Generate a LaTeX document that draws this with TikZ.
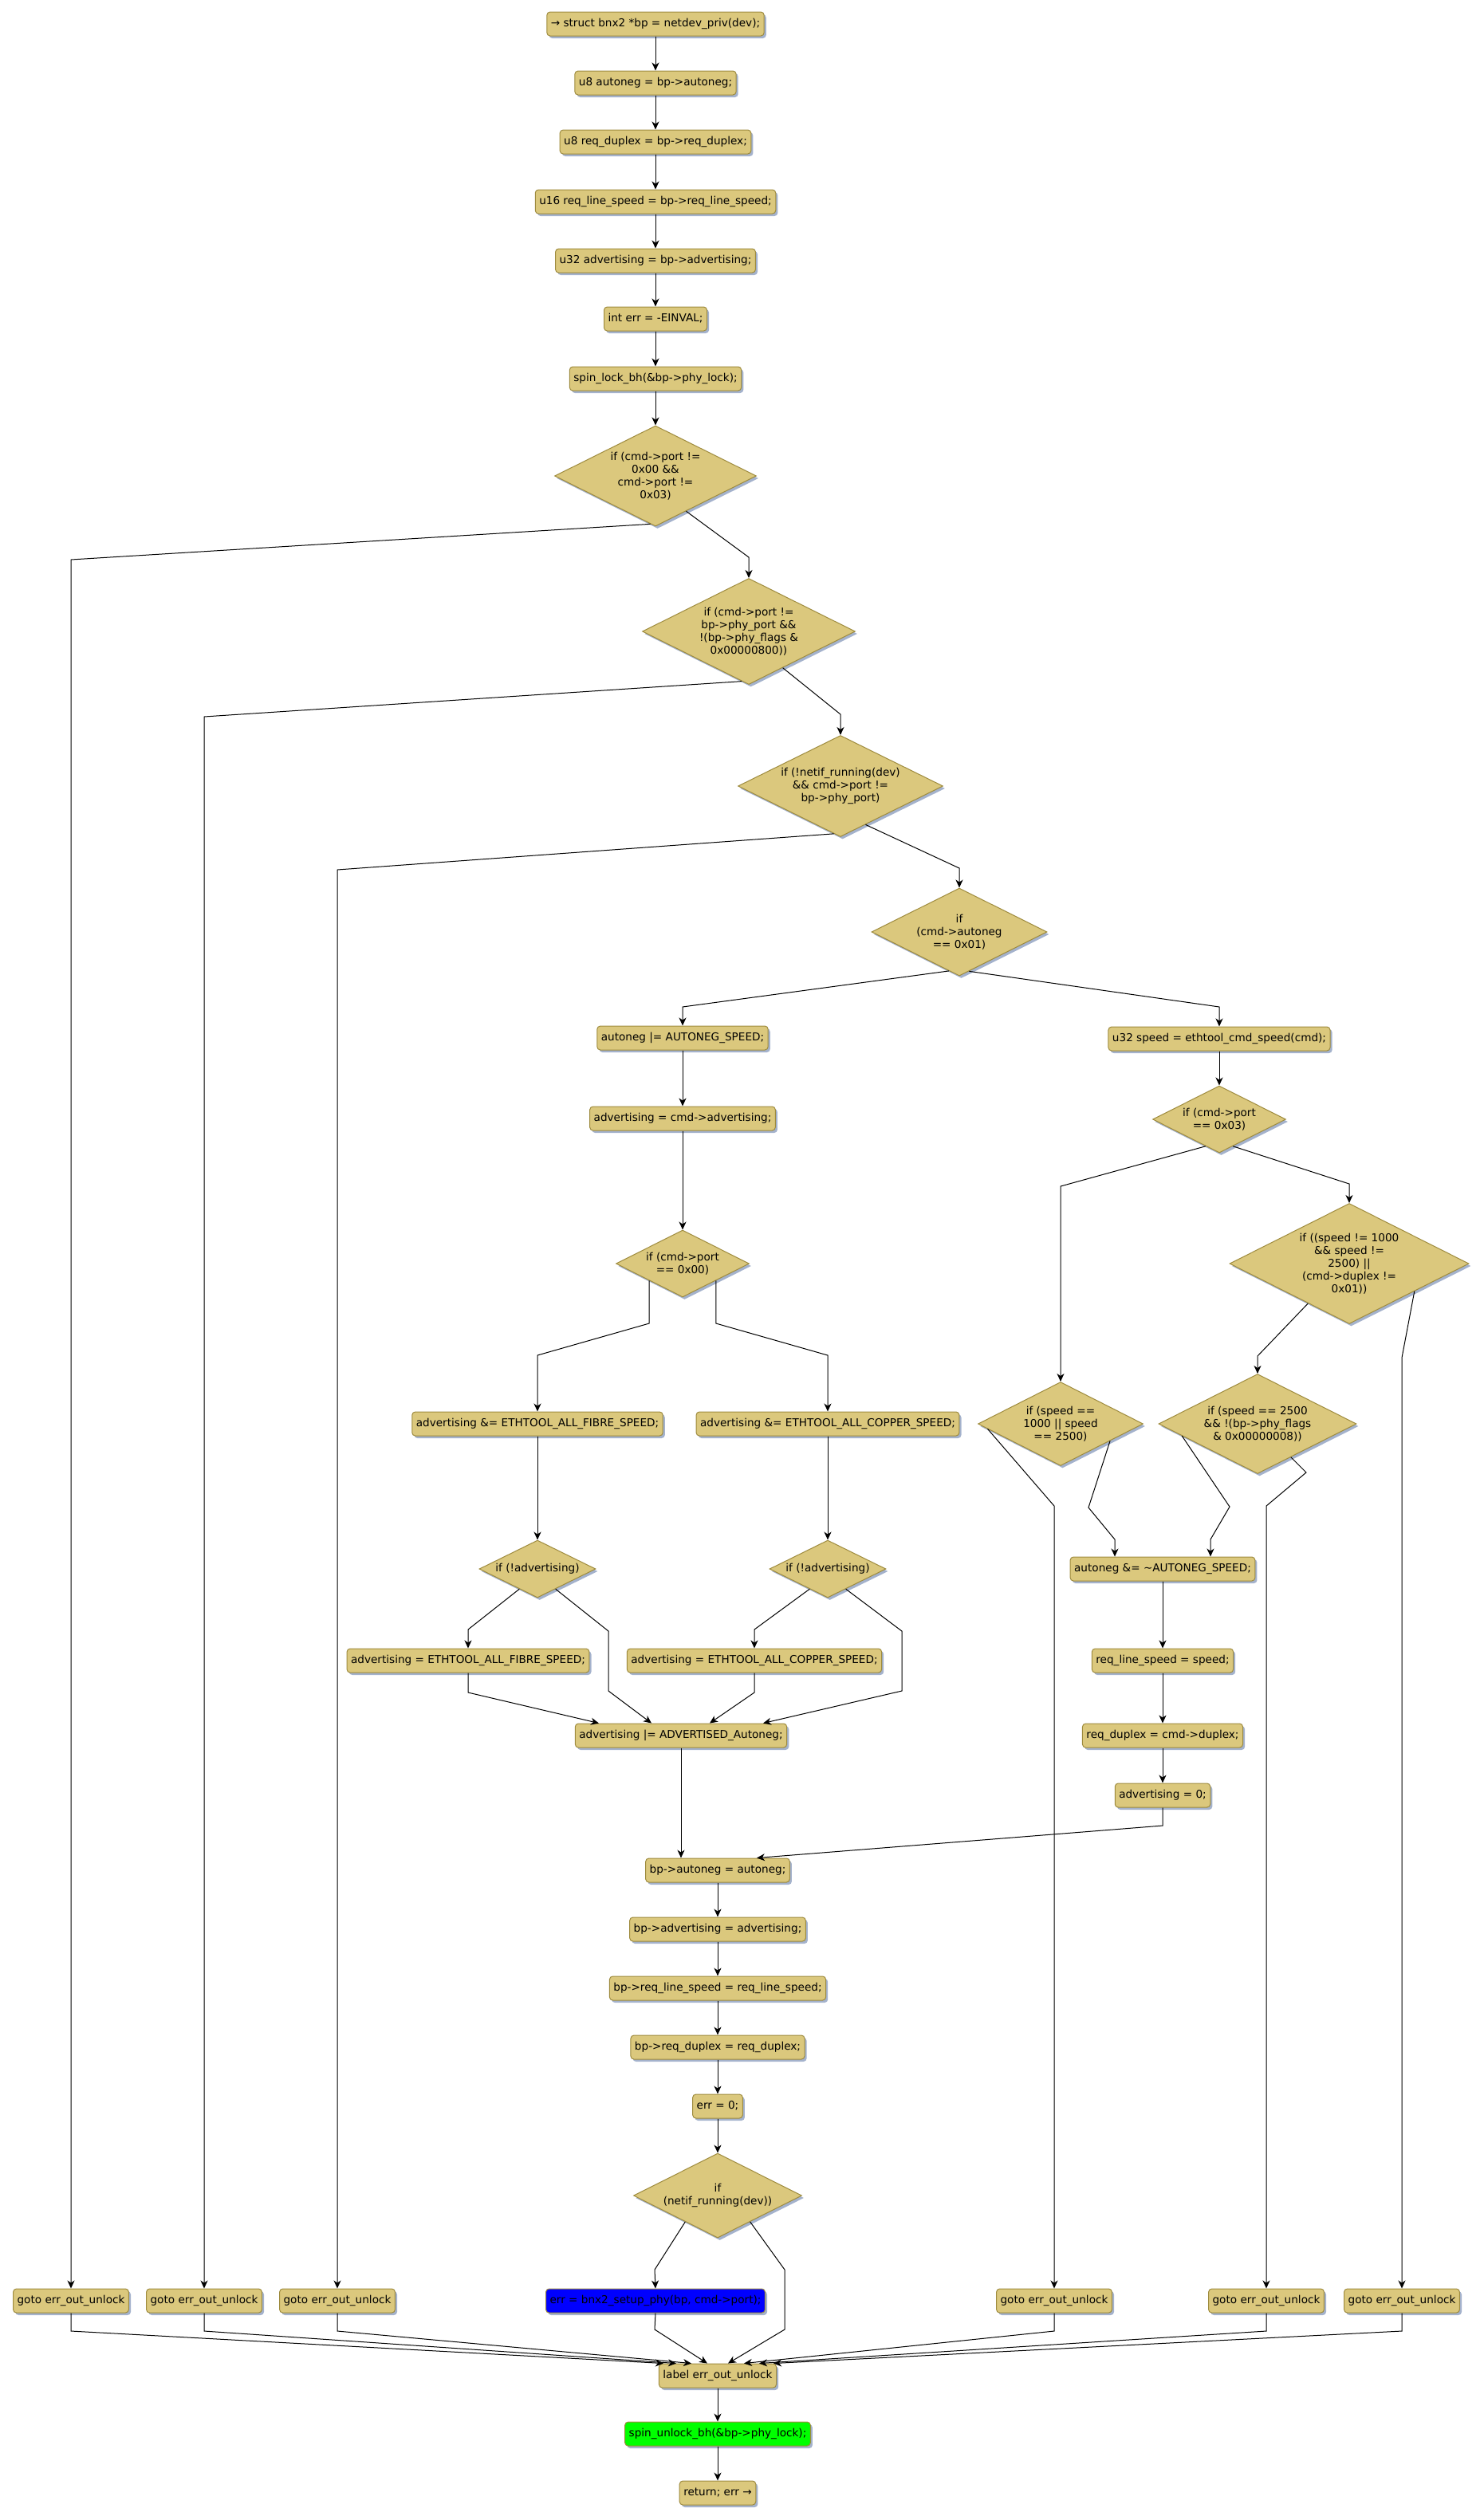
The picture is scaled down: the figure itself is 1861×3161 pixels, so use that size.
\documentclass[tikz,border=0pt]{standalone}
\usepackage{fontspec}
\setmainfont{DejaVu Sans}
\usepackage{tikz}
\usetikzlibrary{arrows.meta,calc,shapes.geometric,shadows}
\definecolor{Sand}{HTML}{DBC87D}
\definecolor{SandEdge}{HTML}{9E8B3E}
\definecolor{Haze}{HTML}{A4B2CC}
\definecolor{SetupBlue}{HTML}{0000FF}
\definecolor{UnlockGreen}{HTML}{00FF00}
\tikzset{
  stmt/.style={draw=SandEdge, fill=Sand, line width=0.5pt, rounded corners=2pt,
    minimum height=15pt, inner xsep=2.5pt, text height=5pt, text depth=1.5pt,
    general shadow={fill=Haze, shadow xshift=1.3pt, shadow yshift=-1.5pt}},
  cond/.style 2 args={diamond, aspect=2, draw=SandEdge, fill=Sand, line width=0.5pt,
    inner sep=0pt, align=center, minimum width=#1*0.5pt, minimum height=#2*0.5pt,
    general shadow={fill=Haze, shadow xshift=1.3pt, shadow yshift=-1.5pt}},
  flow/.style={-{Stealth[length=5pt,width=4.5pt,inset=1.5pt]}, line width=0.5pt},
}
\begin{document}
\begin{tikzpicture}[x=0.5pt, y=-0.5pt, font=\fontsize{6.8pt}{8pt}\selectfont]
    \useasboundingbox (0,0) rectangle (1861,3161);

    % entry and locals
    \node[stmt] (n1) at (822,30) {→ struct bnx2 *bp = netdev\_priv(dev);};
    \node[stmt] (n2) at (822,104) {u8 autoneg = bp->autoneg;};
    \node[stmt] (n3) at (822,178) {u8 req\_duplex = bp->req\_duplex;};
    \node[stmt] (n4) at (822,253) {u16 req\_line\_speed = bp->req\_line\_speed;};
    \node[stmt] (n5) at (822,327) {u32 advertising = bp->advertising;};
    \node[stmt] (n6) at (822,400) {int err = -EINVAL;};
    \node[stmt] (n7) at (822,475) {spin\_lock\_bh(\&bp->phy\_lock);};

    % port checks
    \node[cond={253}{126}] (d1) at (822,597) {if (cmd->port !=\\0x00 \&\&\\cmd->port !=\\0x03)};
    \node[cond={267}{133}] (d2) at (939,792) {if (cmd->port !=\\bp->phy\_port \&\&\\!(bp->phy\_flags \&\\0x00000800))};
    \node[cond={257}{127}] (d3) at (1054,986) {if (!netif\_running(dev)\\\&\& cmd->port !=\\bp->phy\_port)};
    \node[cond={220}{110}] (d4) at (1203,1169) {if\\(cmd->autoneg\\== 0x01)};

    % fixed speed branch
    \node[stmt] (sp) at (1529,1303) {u32 speed = ethtool\_cmd\_speed(cmd);};
    \node[cond={167}{84}] (d5) at (1529,1404) {if (cmd->port\\== 0x03)};
    \node[cond={207}{105}] (d6) at (1330,1786) {if (speed ==\\1000 || speed\\== 2500)};
    \node[cond={300}{151}] (d7) at (1692,1585) {if ((speed != 1000\\\&\& speed !=\\2500) ||\\(cmd->duplex !=\\0x01))};
    \node[cond={248}{125}] (d8) at (1577,1786) {if (speed == 2500\\\&\& !(bp->phy\_flags\\\& 0x00000008))};
    \node[stmt] (ng) at (1458,1968) {autoneg \&= \textasciitilde AUTONEG\_SPEED;};
    \node[stmt] (rl) at (1458,2083) {req\_line\_speed = speed;};
    \node[stmt] (rd) at (1458,2177) {req\_duplex = cmd->duplex;};
    \node[stmt] (az) at (1458,2252) {advertising = 0;};

    % autoneg branch
    \node[stmt] (ao) at (856,1302) {autoneg |= AUTONEG\_SPEED;};
    \node[stmt] (ac) at (856,1403) {advertising = cmd->advertising;};
    \node[cond={167}{84}] (d9) at (856,1585) {if (cmd->port\\== 0x00)};
    \node[stmt] (af) at (674,1786) {advertising \&= ETHTOOL\_ALL\_FIBRE\_SPEED;};
    \node[stmt] (ak) at (1038,1786) {advertising \&= ETHTOOL\_ALL\_COPPER\_SPEED;};
    \node[cond={146}{72}] (d10) at (674,1968) {if (!advertising)};
    \node[cond={146}{72}] (d11) at (1038,1968) {if (!advertising)};
    \node[stmt] (sf) at (587,2083) {advertising = ETHTOOL\_ALL\_FIBRE\_SPEED;};
    \node[stmt] (sc) at (946,2083) {advertising = ETHTOOL\_ALL\_COPPER\_SPEED;};
    \node[stmt] (ad) at (854,2177) {advertising |= ADVERTISED\_Autoneg;};

    % store back
    \node[stmt] (b1) at (900,2346) {bp->autoneg = autoneg;};
    \node[stmt] (b2) at (900,2420) {bp->advertising = advertising;};
    \node[stmt] (b3) at (900,2494) {bp->req\_line\_speed = req\_line\_speed;};
    \node[stmt] (b4) at (900,2568) {bp->req\_duplex = req\_duplex;};
    \node[stmt] (b5) at (900,2642) {err = 0;};
    \node[cond={211}{106}] (d12) at (900,2754) {if\\(netif\_running(dev))};
    \node[stmt, fill=SetupBlue] (su) at (822,2886) {err = bnx2\_setup\_phy(bp, cmd->port);};

    % gotos and exit
    \node[stmt] (g1) at (89,2886) {goto err\_out\_unlock};
    \node[stmt] (g2) at (256,2886) {goto err\_out\_unlock};
    \node[stmt] (g3) at (423,2886) {goto err\_out\_unlock};
    \node[stmt] (g5) at (1322,2886) {goto err\_out\_unlock};
    \node[stmt] (g6) at (1588,2886) {goto err\_out\_unlock};
    \node[stmt] (g7) at (1758,2886) {goto err\_out\_unlock};
    \node[stmt] (lb) at (900,2980) {label err\_out\_unlock};
    \node[stmt, fill=UnlockGreen] (un) at (900,3053) {spin\_unlock\_bh(\&bp->phy\_lock);};
    \node[stmt] (rt) at (900,3127) {return; err →};

    % straight runs
    \draw[flow] (n1) -- (n2);
    \draw[flow] (n2) -- (n3);
    \draw[flow] (n3) -- (n4);
    \draw[flow] (n4) -- (n5);
    \draw[flow] (n5) -- (n6);
    \draw[flow] (n6) -- (n7);
    \draw[flow] (n7) -- (d1);

    \draw[flow] (d1.311) -- (939,699) -- (d2.north);
    \draw[flow] (d1.264) -- (89,702) -- (g1.north);
    \draw[flow] (d2.313) -- (1054,896) -- (d3.north);
    \draw[flow] (d2.262) -- (256,899) -- (g2.north);
    \draw[flow] (d3.303) -- (1203,1089) -- (d4.north);
    \draw[flow] (d3.262) -- (423,1091) -- (g3.north);
    \draw[flow] (d4.284) -- (1529,1263) -- (sp.north);
    \draw[flow] (d4.255) -- (856,1263) -- (ao.north);

    \draw[flow] (sp) -- (d5);
    \draw[flow] (d5.243) -- (1330,1488) -- (d6.north);
    \draw[flow] (d5.297) -- (1692,1485) -- (d7.north);
    \draw[flow] (d7.224) -- (1577,1701) -- (d8.north);
    \draw[flow] (d7.337) -- (1758,1703) -- (g7.north);
    \draw[flow] (d6.184) -- (1322,1889) -- (g5.north);
    \draw[flow] (d6.341) -- (1365,1891) -- (1398,1931) -- ($(ng.north)+(-60,0)$);
    \draw[flow] (d8.189) -- (1542,1890) -- (1518,1931) -- ($(ng.north)+(60,0)$);
    \draw[flow] (d8.315) -- (1638,1847) -- (1588,1889) -- (g6.north);
    \draw[flow] (ng) -- (rl);
    \draw[flow] (rl) -- (rd);
    \draw[flow] (rd) -- (az);
    \draw[flow] (az.south) -- (1458,2290) -- ($(b1.north)+(49,0)$);

    \draw[flow] (ao) -- (ac);
    \draw[flow] (ac) -- (d9);
    \draw[flow] (d9.207) -- (d9.207 |- 0,1660) -- (674,1700) -- (af.north);
    \draw[flow] (d9.333) -- (d9.333 |- 0,1660) -- (1038,1700) -- (ak.north);
    \draw[flow] (af) -- (d10);
    \draw[flow] (ak) -- (d11);
    \draw[flow] (d10.228) -- (587,2044) -- (sf.north);
    \draw[flow] (d10.312) -- (763,2046) -- (763,2121) -- ($(ad.north)+(-37,0)$);
    \draw[flow] (sf.south) -- (587,2123) -- ($(ad.north)+(-103,0)$);
    \draw[flow] (d11.228) -- (946,2044) -- (sc.north);
    \draw[flow] (d11.312) -- (1131,2046) -- (1131,2121) -- ($(ad.north)+(103,0)$);
    \draw[flow] (sc.south) -- (946,2123) -- ($(ad.north)+(36,0)$);
    \draw[flow] (ad.south) -- (ad.south |- b1.north);

    \draw[flow] (b1) -- (b2);
    \draw[flow] (b2) -- (b3);
    \draw[flow] (b3) -- (b4);
    \draw[flow] (b4) -- (b5);
    \draw[flow] (b5) -- (d12);
    \draw[flow] (d12.219) -- (821,2847) -- (su.north);
    \draw[flow] (d12.321) -- (984,2847) -- (984,2922) -- ($(lb.north)+(13,0)$);
    \draw[flow] (su.south) -- (821,2922) -- ($(lb.north)+(-13,0)$);

    % all gotos meet at the label
    \draw[flow] (g1.south) -- (89,2924) -- ($(lb.north)+(-68,0)$);
    \draw[flow] (g2.south) -- (256,2924) -- ($(lb.north)+(-52,0)$);
    \draw[flow] (g3.south) -- (423,2924) -- ($(lb.north)+(-33,0)$);
    \draw[flow] (g5.south) -- (1322,2924) -- ($(lb.north)+(33,0)$);
    \draw[flow] (g6.south) -- (1588,2924) -- ($(lb.north)+(52,0)$);
    \draw[flow] (g7.south) -- (1758,2924) -- ($(lb.north)+(70,0)$);
    \draw[flow] (lb) -- (un);
    \draw[flow] (un) -- (rt);
\end{tikzpicture}
\end{document}
